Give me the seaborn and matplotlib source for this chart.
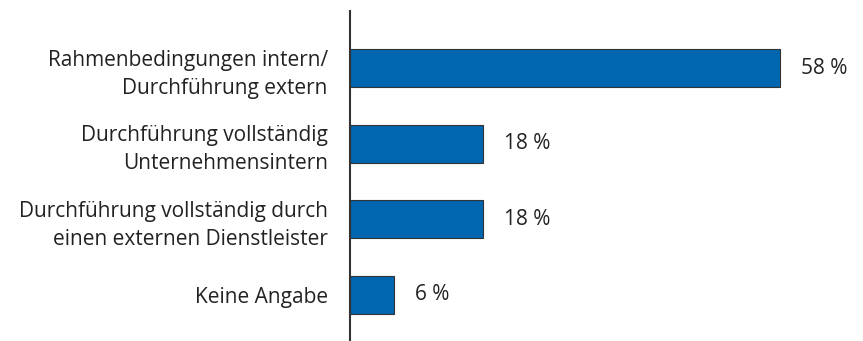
import matplotlib
matplotlib.use("Agg")
import matplotlib.pyplot as plt
import seaborn as sns
import pandas as pd

categories = [
    "Rahmenbedingungen intern/\nDurchführung extern",
    "Durchführung vollständig\nUnternehmensintern",
    "Durchführung vollständig durch\neinen externen Dienstleister",
    "Keine Angabe",
]
values = [58, 18, 18, 6]
value_labels = ["58 %", "18 %", "18 %", "6 %"]

sns.set_style("white")
plt.rcParams["font.family"] = ["Open Sans", "DejaVu Sans"]

df = pd.DataFrame({"Kategorie": categories, "Anteil": values})

fig = plt.figure(figsize=(8.63, 3.41), dpi=100)
ax = fig.add_axes([350 / 863, 0.0, 513 / 863, 330 / 341])

sns.barplot(data=df, x="Anteil", y="Kategorie", orient="h", ax=ax,
            color="#0066B0", saturation=1, width=0.5,
            edgecolor="#333333", linewidth=0.8)

ax.set_xlim(0, 513 / 7.41)
ax.set_ylim(3.61, -0.754)

for i, (v, lab) in enumerate(zip(values, value_labels)):
    ax.text(v + 2.8, i, lab, va="center", ha="left", fontsize=15, color="#222222")

ax.set_xlabel("")
ax.set_ylabel("")
ax.set_xticks([])
ax.tick_params(axis="y", length=0, pad=16, labelsize=15, labelcolor="#222222")
for t in ax.get_yticklabels():
    t.set_multialignment("right")
    t.set_linespacing(1.45)

for s in ["top", "right", "bottom"]:
    ax.spines[s].set_visible(False)
ax.spines["left"].set_color("#333333")
ax.spines["left"].set_linewidth(1.5)

fig.savefig("out.png", dpi=100)
